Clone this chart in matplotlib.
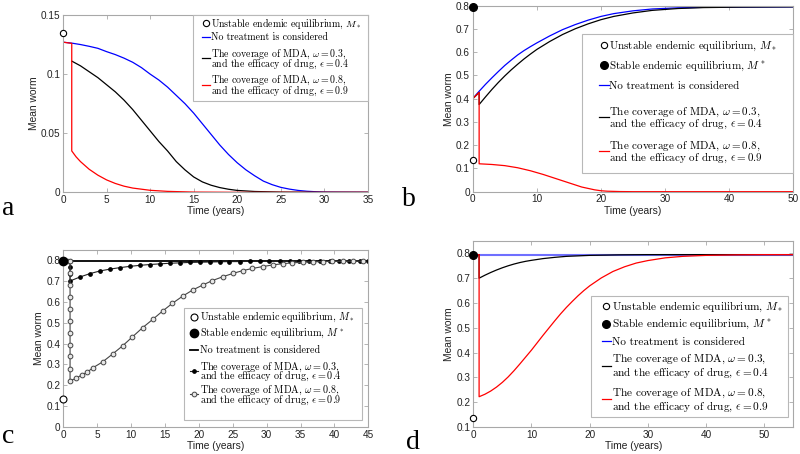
import matplotlib
matplotlib.use("Agg")
import matplotlib.pyplot as plt
from matplotlib.font_manager import FontProperties
from matplotlib.patches import Rectangle
from matplotlib.lines import Line2D

plt.rcParams['font.family'] = ['Liberation Sans', 'DejaVu Sans']
plt.rcParams['mathtext.fontset'] = 'cm'

# ---------------- data ----------------
M_unstable = 0.135
M_stable = 0.795

# panel a
a_t_none = [0, 1, 2, 3, 4, 5, 6, 7, 8, 9, 10, 11, 12, 13, 14, 15, 16, 17, 18, 19, 20,
            21, 22, 23, 24, 25, 26, 27, 28, 29, 30, 32, 35]
a_none = [0.127, 0.1262, 0.125, 0.1235, 0.1218, 0.119, 0.1165, 0.1135, 0.110, 0.1055, 0.100,
          0.095, 0.089, 0.082, 0.075, 0.067, 0.058, 0.049, 0.040, 0.032, 0.025,
          0.019, 0.014, 0.0095, 0.0065, 0.0042, 0.0027, 0.0016, 0.0009, 0.0005, 0.0002, 0.0001, 0.0]
a_t_low = [1, 2, 3, 4, 5, 6, 7, 8, 9, 10, 11, 12, 13, 14, 15, 16, 17, 18, 19, 20, 22, 25, 30, 35]
a_low = [0.111, 0.107, 0.102, 0.097, 0.091, 0.085, 0.078, 0.070, 0.061, 0.052, 0.043, 0.035,
         0.026, 0.019, 0.013, 0.0088, 0.006, 0.004, 0.0026, 0.0016, 0.0007, 0.0002, 0.0, 0.0]
a_t_high = [0, 1, 1, 1.5, 2, 3, 4, 5, 6, 7, 8, 10, 12, 15, 20, 35]
a_high = [0.127, 0.126, 0.035, 0.030, 0.026, 0.0195, 0.0145, 0.0105, 0.0075, 0.0052, 0.0036,
          0.0017, 0.0008, 0.0002, 0.0, 0.0]

# panel b
b_t_none = [0, 1, 2, 3, 4, 5, 6, 7, 8, 9, 10, 12, 14, 16, 18, 20, 22, 25, 28, 32, 36, 42, 50]
b_none = [0.40, 0.432, 0.462, 0.490, 0.517, 0.543, 0.566, 0.588, 0.607, 0.624, 0.640, 0.670,
          0.697, 0.719, 0.738, 0.754, 0.766, 0.778, 0.786, 0.791, 0.793, 0.794, 0.795]
b_t_low = [0, 1, 1, 2, 3, 4, 5, 6, 7, 8, 9, 10, 12, 14, 16, 18, 20, 22, 25, 28, 32, 36, 42, 50]
b_low = [0.40, 0.427, 0.375, 0.408, 0.440, 0.470, 0.498, 0.524, 0.548, 0.571, 0.592, 0.612,
         0.646, 0.676, 0.701, 0.722, 0.740, 0.754, 0.769, 0.780, 0.788, 0.792, 0.794, 0.795]
b_t_high = [0, 1, 1, 3, 5, 7, 9, 11, 13, 15, 17, 19, 20, 21, 23, 25, 50]
b_high = [0.40, 0.427, 0.120, 0.117, 0.112, 0.103, 0.090, 0.074, 0.056, 0.038, 0.020, 0.008,
          0.004, 0.002, 0.0005, 0.0, 0.0]

# panel c
c_t_none = [0, 45]
c_none = [0.795, 0.795]
c_t_low = [0, 0.25, 0.5, 0.75, 1, 1, 1, 1, 2.45, 3.9, 5.4, 6.9, 8.35, 9.8, 11.3, 12.8, 14.2,
           15.7, 17.2, 18.7, 20.1, 21.6, 23.1, 24.5, 26, 27.5, 29, 30.4, 31.9, 33.4, 34.8,
           36.3, 37.8, 39.3, 40.7, 42.2, 43.7, 45]
c_low = [0.795, 0.795, 0.795, 0.795, 0.795, 0.766, 0.735, 0.700, 0.719, 0.735, 0.748, 0.757,
         0.764, 0.770, 0.775, 0.779, 0.782, 0.785, 0.787, 0.789, 0.790, 0.791, 0.792, 0.793,
         0.793, 0.794, 0.794, 0.794, 0.795, 0.795, 0.795, 0.795, 0.795, 0.795, 0.795, 0.795,
         0.795, 0.795]
c_t_high = [0, 0.5, 1, 1, 1, 1, 1, 1, 1, 1, 1, 1, 1, 1.87, 2.7, 3.54, 4.33, 5.8, 7.28, 8.75,
            10.2, 11.7, 13.2, 14.66, 16.1, 17.6, 19.1, 20.6, 22.0, 23.5, 25.0, 26.5, 27.9,
            29.4, 30.9, 32.4, 33.8, 35.3, 36.8, 38.3, 39.7, 41.2, 42.7, 44.2]
c_high = [0.795, 0.795, 0.795, 0.737, 0.680, 0.622, 0.565, 0.508, 0.452, 0.395, 0.338, 0.280,
          0.222, 0.233, 0.249, 0.263, 0.283, 0.312, 0.350, 0.389, 0.432, 0.476, 0.516, 0.556,
          0.593, 0.627, 0.657, 0.681, 0.702, 0.720, 0.736, 0.750, 0.760, 0.769, 0.777, 0.783,
          0.787, 0.790, 0.792, 0.793, 0.794, 0.795, 0.795, 0.795]

# panel d
d_t_none = [0, 55]
d_none = [0.795, 0.795]
d_t_low = [0, 1, 1, 2, 3, 4, 5, 6, 7, 8, 9, 10, 12, 14, 16, 18, 20, 25, 30, 55]
d_low = [0.795, 0.795, 0.700, 0.712, 0.723, 0.733, 0.742, 0.750, 0.757, 0.763, 0.768, 0.772,
         0.779, 0.784, 0.788, 0.790, 0.792, 0.794, 0.795, 0.795]
d_t_high = [0, 1, 1, 2, 3, 4, 5, 6, 7, 8, 9, 10, 11, 12, 13, 14, 15, 16, 17, 18, 19, 20, 22,
            24, 26, 28, 30, 33, 36, 40, 45, 50, 55]
d_high = [0.795, 0.795, 0.222, 0.232, 0.245, 0.261, 0.280, 0.302, 0.327, 0.354, 0.382, 0.410,
          0.440, 0.470, 0.499, 0.528, 0.556, 0.582, 0.606, 0.629, 0.650, 0.669, 0.701, 0.727,
          0.746, 0.761, 0.771, 0.782, 0.788, 0.792, 0.794, 0.795, 0.795]

lab_unstable = r"Unstable endemic equilibrium, $M_*$"
lab_stable = r"Stable endemic equilibrium, $M^*$"
lab_none = "No treatment is considered"
lab_low = "The coverage of MDA, $\\omega = 0.3$,\nand the efficacy of drug, $\\epsilon = 0.4$"
lab_high = "The coverage of MDA, $\\omega = 0.8$,\nand the efficacy of drug, $\\epsilon = 0.9$"

# ---------------- figure ----------------
W, H = 800, 454
fig = plt.figure(figsize=(8, 4.54), dpi=100)
renderer = fig.canvas.get_renderer()

SP = '#a8a8a8'


def fx(px):
    return px / W


def fy(py):
    return 1 - py / H


def style(ax, xlim, ylim, xt, yt, ytl):
    ax.set_xlim(*xlim)
    ax.set_ylim(*ylim)
    ax.set_xticks(xt)
    ax.set_yticks(yt)
    ax.set_yticklabels(ytl)
    for s in ax.spines.values():
        s.set_color(SP)
        s.set_linewidth(0.8)
    ax.tick_params(direction='in', length=3, width=0.6, color=SP, top=True, right=True,
                   labelsize=7.2, labelcolor='#222222', pad=2)
    ax.set_xlabel("Time (years)", fontsize=7.4, color='#222222', labelpad=1)
    ax.set_ylabel("Mean worm", fontsize=7.4, color='#222222', labelpad=1.5)


def linespacing_for(lines, prop, target):
    """Line spacing factor giving a baseline-to-baseline advance of `target` pixels."""
    _, lp_h, lp_d = renderer.get_text_width_height_descent("lp", prop, ismath=False)
    _, h1, d1 = renderer.get_text_width_height_descent(lines[0], prop, ismath=('$' in lines[0]))
    _, h2, d2 = renderer.get_text_width_height_descent(lines[1], prop, ismath=('$' in lines[1]))
    d1 = max(d1, lp_d)
    asc2 = max(max(h2, lp_h) - max(d2, lp_d), lp_h - lp_d)
    return max((target - d1) / asc2, 0.3)


def key(handles, labels, box, hx, tx, centers, size):
    """MATLAB-style key: box (x0,y0,x1,y1) px, handle span hx, text x,
    one visual centre per text line (px from top)."""
    x0, y0, x1, y1 = box
    fig.add_artist(Rectangle((fx(x0), fy(y1)), fx(x1) - fx(x0), fy(y0) - fy(y1),
                             transform=fig.transFigure, facecolor='white',
                             edgecolor='#b8b8b8', lw=0.8, zorder=4))
    prop = FontProperties(family='cmr10', size=size)
    em = size * 100 / 72
    k = 0
    for h, lab in zip(handles, labels):
        lines = lab.split('\n')
        cy = centers[k:k + len(lines)]
        k += len(lines)
        ymid = sum(cy) / len(cy)
        ls = h.get_linestyle()
        mk = h.get_marker()
        if ls not in ('None', 'none', ''):
            fig.add_artist(Line2D([fx(hx[0]), fx(hx[1])], [fy(ymid)] * 2, transform=fig.transFigure,
                                  color=h.get_color(), lw=h.get_linewidth(), zorder=5))
        if mk not in ('None', 'none', '', None):
            fig.add_artist(Line2D([fx((hx[0] + hx[1]) / 2)], [fy(ymid)], transform=fig.transFigure,
                                  linestyle='none', marker=mk, ms=h.get_markersize(),
                                  mfc=h.get_markerfacecolor(), mec=h.get_markeredgecolor(),
                                  mew=h.get_markeredgewidth(), zorder=5))
        lsp = 1.2
        if len(lines) > 1:
            lsp = linespacing_for(lines, prop, cy[1] - cy[0])
        # 'baseline' alignment of a multi-line text refers to its last line
        fig.text(fx(tx), fy(cy[-1] + 0.32 * em), lab, fontproperties=prop, va='baseline',
                 ha='left', linespacing=lsp, zorder=6)


# panel a
axa = fig.add_axes([0.0788, 0.5764, 0.381, 0.3906])
pn, = axa.plot(a_t_none, a_none, color='blue', lw=0.9)
pl, = axa.plot(a_t_low, a_low, color='black', lw=0.9)
ph, = axa.plot(a_t_high, a_high, color='red', lw=0.9)
pu, = axa.plot([0], [M_unstable], 'o', ms=4.5, mfc='white', mec='black', mew=0.8, clip_on=False, zorder=5)
style(axa, (0, 35), (0, 0.15), range(0, 36, 5), [0, 0.05, 0.1, 0.15], ['0', '0.05', '0.1', '0.15'])
key([pu, pn, pl, ph], [lab_unstable, lab_none, lab_low, lab_high],
    (193, 15, 368, 100.7), (201.7, 210), 210.7, [23.3, 36.7, 53.3, 63.3, 80, 90.7], 7.1)

# panel b
axb = fig.add_axes([0.5909, 0.5778, 0.4008, 0.4096])
pn, = axb.plot(b_t_none, b_none, color='blue', lw=0.9)
pl, = axb.plot(b_t_low, b_low, color='black', lw=0.9)
ph, = axb.plot(b_t_high, b_high, color='red', lw=0.9)
pu, = axb.plot([0], [M_unstable], 'o', ms=4.5, mfc='white', mec='black', mew=0.8, clip_on=False, zorder=5)
ps, = axb.plot([0], [M_stable], 'o', ms=5.5, mfc='black', mec='black', clip_on=False, zorder=5)
style(axb, (0, 50), (0, 0.8), range(0, 51, 10), [i / 10 for i in range(9)],
      ['0'] + ['%.1f' % (i / 10) for i in range(1, 9)])
key([pu, ps, pn, pl, ph], [lab_unstable, lab_stable, lab_none, lab_low, lab_high],
    (582, 34, 793, 173), (599.3, 608.5), 609.3, [45, 65, 85, 111, 123.3, 145, 157.7], 7.95)

# panel c
axc = fig.add_axes([0.0791, 0.0595, 0.3813, 0.3905])
pn, = axc.plot(c_t_none, c_none, color='black', lw=1.3)
pl, = axc.plot(c_t_low, c_low, color='#222222', lw=0.8, marker='o', ms=2.4, mfc='black', mec='black')
ph, = axc.plot(c_t_high, c_high, color='#444444', lw=0.8, marker='o', ms=3.4, mfc='#e8e8e8',
               mec='#444444', mew=0.7)
pu, = axc.plot([0], [M_unstable], 'o', ms=5, mfc='white', mec='black', mew=0.8, clip_on=False, zorder=5)
ps, = axc.plot([0], [M_stable], 'o', ms=6, mfc='black', mec='black', clip_on=False, zorder=5)
style(axc, (0, 45), (0, 0.85), range(0, 46, 5), [i / 10 for i in range(9)],
      ['0'] + ['%.1f' % (i / 10) for i in range(1, 9)])
key([pu, ps, pn, pl, ph], [lab_unstable, lab_stable, lab_none, lab_low, lab_high],
    (184, 308, 361.7, 420.3), (189.5, 198), 199.5,
    [316.8, 332.8, 350, 366.3, 376, 389.6, 399.3], 7.3)

# panel d
axd = fig.add_axes([0.5916, 0.0595, 0.4, 0.4097])
pn, = axd.plot(d_t_none, d_none, color='#6f6fff', lw=1.5)
pl, = axd.plot(d_t_low, d_low, color='black', lw=0.9)
ph, = axd.plot(d_t_high, d_high, color='red', lw=0.9)
pu, = axd.plot([0], [M_unstable], 'o', ms=4.5, mfc='white', mec='black', mew=0.8, clip_on=False, zorder=5)
ps, = axd.plot([0], [M_stable], 'o', ms=5.5, mfc='black', mec='black', clip_on=False, zorder=5)
style(axd, (0, 55), (0.1, 0.85), range(0, 51, 10), [i / 10 for i in range(1, 9)],
      ['%.1f' % (i / 10) for i in range(1, 9)])
hn = Line2D([], [], color='blue', lw=0.9)
key([pu, ps, hn, pl, ph], [lab_unstable, lab_stable, lab_none, lab_low, lab_high],
    (591, 296, 788, 417), (601.7, 610.7), 611.7,
    [306, 323.7, 341, 358.7, 372.7, 392, 406], 8.1)

# panel letters
for x, y, s in [(0.003, 0.526, 'a'), (0.503, 0.546, 'b'), (0.003, 0.024, 'c'), (0.508, 0.011, 'd')]:
    fig.text(x, y, s, fontsize=20, family='Liberation Serif', va='baseline', ha='left')

fig.savefig("out.png", dpi=100)
